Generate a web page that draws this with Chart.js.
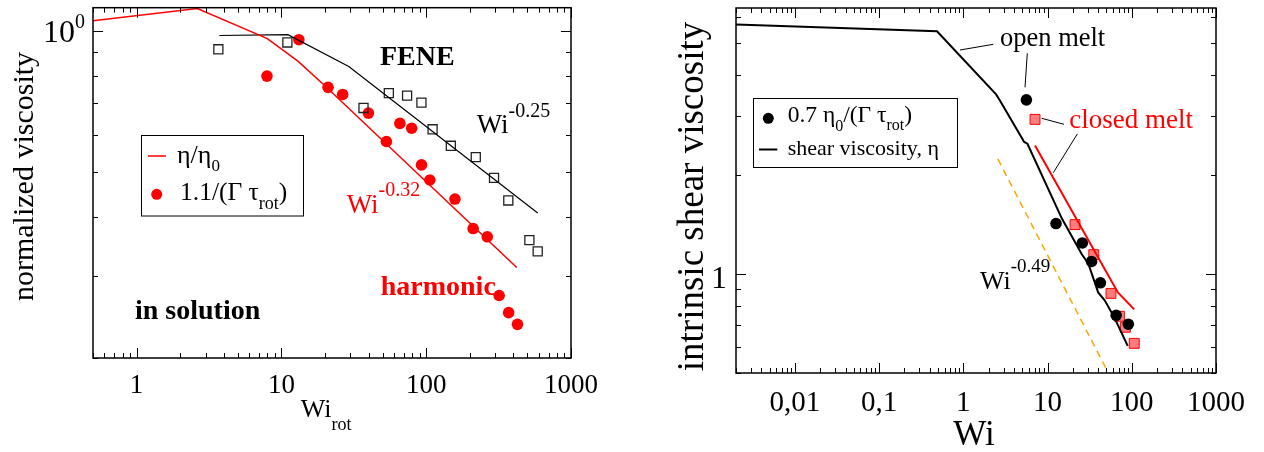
<!DOCTYPE html>
<html>
<head>
<meta charset="utf-8">
<script src="https://cdn.jsdelivr.net/npm/chart.js@4.4.0/dist/chart.umd.min.js"></script>
<style>
  html, body { margin: 0; padding: 0; background: #fff; }
  #wrap { position: relative; width: 1264px; height: 452px; }
  #wrap canvas { position: absolute; left: 0; top: 0; }
</style>
</head>
<body>
<div id="wrap">
  <canvas id="solution" width="1264" height="452"></canvas>
  <canvas id="melt" width="1264" height="452"></canvas>
</div>
<script>
// left panel: chains in solution
const harmLineWi  = [0.5, 2.63, 8, 13, 19.8, 422];
const harmLineEta = [1.05, 1.115, 0.962, 0.861, 0.765, 0.312];
const harmDotWi  = [7.95, 13.2, 21.0, 26.5, 39.9, 53.1, 65.8, 79.4, 92.8, 106, 158, 211, 264, 319, 371, 427];
const harmDotEta = [0.800, 0.957, 0.757, 0.731, 0.667, 0.580, 0.634, 0.619, 0.517, 0.480, 0.437, 0.378, 0.363, 0.272, 0.250, 0.236];
const feneLineWi  = [3.73, 11.1, 29.2, 589];
const feneLineEta = [0.977, 0.981, 0.839, 0.408];
const feneSqWi  = [3.67, 11.0, 36.9, 55.2, 73.8, 92.7, 110.7, 148, 220, 294, 369, 516, 589];
const feneSqEta = [0.913, 0.944, 0.684, 0.736, 0.727, 0.702, 0.616, 0.568, 0.537, 0.485, 0.434, 0.357, 0.338];
const solXTicks  = [1, 10, 100, 1000];
const solXLabels = ['1', '10', '100', '1000'];

// right panel: melts
const openLineWi  = [0.002, 0.487, 2.45, 2.73, 5.28, 5.77, 14.8, 25.4, 30.5, 39.9, 47.7, 62.4, 89.5];
const openLineEta = [5.70, 5.44, 3.50, 3.35, 2.51, 2.48, 1.47, 1.148, 1.073, 0.878, 0.831, 0.735, 0.604];
const openDotWi  = [5.61, 12.6, 25.9, 33.3, 42.4, 65.3, 91.0];
const openDotEta = [3.37, 1.42, 1.24, 1.09, 0.939, 0.748, 0.703];
const closedLineWi  = [7.10, 68.4, 107];
const closedLineEta = [2.45, 0.878, 0.780];
const closedSqWi  = [7.10, 21.2, 35.4, 56.6, 71.4, 83.9, 107];
const closedSqEta = [2.94, 1.41, 1.143, 0.872, 0.743, 0.688, 0.615];
const slopeWi  = [2.57, 49.9];
const slopeEta = [2.23, 0.514];
const meltXTicks  = [0.01, 0.1, 1, 10, 100, 1000];
const meltXLabels = ['0,01', '0,1', '1', '10', '100', '1000'];

const FONT = '"Liberation Serif", "Times New Roman", serif';
const RED = '#ff0000';

function pts(xs, ys) {
    return xs.map((x, i) => ({ x: x, y: ys[i] }));
}

function txt(ctx, s, x, y, size, color, bold, align) {
    ctx.font = (bold ? 'bold ' : '') + size + 'px ' + FONT;
    ctx.fillStyle = color || '#000';
    ctx.textAlign = align || 'left';
    ctx.textBaseline = 'alphabetic';
    ctx.fillText(s, x, y);
    return ctx.measureText(s).width;
}

// text with sub/superscripts: parts are [text, size, baseline shift]
function rich(ctx, x, y, parts, color) {
    parts.forEach(p => {
        x += txt(ctx, p[0], x, y + p[2], p[1], color);
    });
}

function vtxt(ctx, s, x, y, size) {
    ctx.save();
    ctx.translate(x, y);
    ctx.rotate(-Math.PI / 2);
    txt(ctx, s, 0, 0, size, '#000', false, 'center');
    ctx.restore();
}

function seg(ctx, x1, y1, x2, y2, color, w) {
    ctx.strokeStyle = color;
    ctx.lineWidth = w;
    ctx.beginPath();
    ctx.moveTo(x1, y1);
    ctx.lineTo(x2, y2);
    ctx.stroke();
}

function dot(ctx, x, y, r, color) {
    ctx.fillStyle = color;
    ctx.beginPath();
    ctx.arc(x, y, r, 0, Math.PI * 2);
    ctx.fill();
}

// tick positions 1..9 per decade inside the axis range
function logTicks(scale) {
    const out = [];
    const lo = Math.floor(Math.log10(scale.min));
    const hi = Math.ceil(Math.log10(scale.max));
    for (let e = lo; e <= hi; e++) {
        for (let k = 1; k <= 9; k++) {
            const v = k * Math.pow(10, e);
            if (v >= scale.min * 0.999 && v <= scale.max * 1.001) out.push({ v: v, major: k === 1 });
        }
    }
    return out;
}

// box around the plot with inward ticks on all four sides
function drawFrame(chart) {
    const ctx = chart.ctx;
    const a = chart.chartArea;
    const x = chart.scales.x, y = chart.scales.y;
    ctx.save();
    ctx.strokeStyle = '#000';
    ctx.lineWidth = 1.5;
    ctx.strokeRect(a.left, a.top, a.right - a.left, a.bottom - a.top);
    ctx.lineWidth = 1;
    ctx.beginPath();
    logTicks(x).forEach(t => {
        const px = Math.round(x.getPixelForValue(t.v)) + 0.5;
        const len = t.major ? 10 : 5;
        ctx.moveTo(px, a.bottom); ctx.lineTo(px, a.bottom - len);
        ctx.moveTo(px, a.top); ctx.lineTo(px, a.top + len);
    });
    logTicks(y).forEach(t => {
        const py = Math.round(y.getPixelForValue(t.v)) + 0.5;
        const len = t.major ? 10 : 5;
        ctx.moveTo(a.left, py); ctx.lineTo(a.left + len, py);
        ctx.moveTo(a.right, py); ctx.lineTo(a.right - len, py);
    });
    ctx.stroke();
    ctx.restore();
}

function logAxes(xmin, xmax, ymin, ymax) {
    const hidden = { ticks: { display: false }, grid: { display: false }, border: { display: false } };
    return {
        x: Object.assign({ type: 'logarithmic', min: xmin, max: xmax }, hidden),
        y: Object.assign({ type: 'logarithmic', min: ymin, max: ymax }, hidden)
    };
}

const solutionDeco = {
    id: 'solutionDeco',
    afterDraw(chart) {
        const ctx = chart.ctx;
        drawFrame(chart);
        ctx.save();
        solXTicks.forEach((v, i) => {
            txt(ctx, solXLabels[i], chart.scales.x.getPixelForValue(v), 393, 27, '#000', false, 'center');
        });
        rich(ctx, 43, 41.5, [['10', 32, 0], ['0', 20, -14]]);
        vtxt(ctx, 'normalized viscosity', 33, 176.5, 30);
        rich(ctx, 300.7, 417, [['Wi', 26, 0], ['rot', 18, 13]]);

        txt(ctx, 'FENE', 380, 65, 28, '#000', true);
        rich(ctx, 476.7, 133, [['Wi', 27, 0], ['-0.25', 20, -16]]);
        rich(ctx, 346.7, 213, [['Wi', 27, 0], ['-0.32', 20, -17]], RED);
        txt(ctx, 'harmonic', 380.7, 295, 28, RED, true);
        txt(ctx, 'in solution', 135, 319, 28, '#000', true);

        // legend
        ctx.fillStyle = '#fff';
        ctx.fillRect(141.5, 135.5, 162, 80.5);
        ctx.strokeStyle = '#000';
        ctx.lineWidth = 1;
        ctx.strokeRect(141.5, 135.5, 162, 80.5);
        seg(ctx, 148, 156, 166, 156, RED, 1.5);
        rich(ctx, 177, 163, [['η/η', 26, 0], ['0', 17, 8]]);
        dot(ctx, 156.7, 194.3, 5.5, RED);
        rich(ctx, 180, 200, [['1.1/(Γ τ', 25.5, 0], ['rot', 18, 9], [')', 25.5, 0]]);
        ctx.restore();
    }
};

const meltDeco = {
    id: 'meltDeco',
    afterDraw(chart) {
        const ctx = chart.ctx;
        drawFrame(chart);
        ctx.save();
        meltXTicks.forEach((v, i) => {
            txt(ctx, meltXLabels[i], chart.scales.x.getPixelForValue(v), 411, 29, '#000', false, 'center');
        });
        txt(ctx, '1', 719, 288, 32, '#000', false, 'center');
        vtxt(ctx, 'intrinsic shear viscosity', 703, 196.5, 37);
        txt(ctx, 'Wi', 953.3, 445, 35);

        txt(ctx, 'open melt', 1000, 45.5, 26.5);
        seg(ctx, 960, 50, 993.3, 44.3, '#000', 1);
        seg(ctx, 1027.3, 53.3, 1025, 87.3, '#000', 1);
        txt(ctx, 'closed melt', 1069.3, 128.3, 27, RED);
        seg(ctx, 1041.7, 118.3, 1064, 124.3, '#000', 1);
        seg(ctx, 1077.3, 134, 1053.3, 172.7, '#000', 1);
        rich(ctx, 980, 289, [['Wi', 26, 0], ['-0.49', 19, -17]]);

        // legend
        ctx.fillStyle = '#fff';
        ctx.fillRect(753.5, 98.5, 204, 69);
        ctx.strokeStyle = '#000';
        ctx.lineWidth = 1;
        ctx.strokeRect(753.5, 98.5, 204, 69);
        dot(ctx, 768.3, 118.3, 5.5, '#000');
        rich(ctx, 787.7, 121.7, [['0.7 η', 23.5, 0], ['0', 16, 9], ['/(Γ τ', 23.5, 0], ['rot', 16, 8], [')', 23.5, 0]]);
        seg(ctx, 759, 149.5, 777.3, 149.5, '#000', 2);
        txt(ctx, 'shear viscosity, η', 787.7, 155, 22);
        ctx.restore();
    }
};

const common = {
    responsive: false,
    animation: false,
    events: [],
    plugins: { legend: { display: false }, tooltip: { enabled: false } }
};

new Chart(document.getElementById('solution'), {
    type: 'scatter',
    data: {
        datasets: [{
            data: pts(harmLineWi, harmLineEta),
            showLine: true, borderColor: RED, borderWidth: 1.5, pointRadius: 0
        }, {
            data: pts(feneLineWi, feneLineEta),
            showLine: true, borderColor: '#000', borderWidth: 1.2, pointRadius: 0
        }, {
            data: pts(feneSqWi, feneSqEta),
            pointStyle: 'rect', pointRadius: 6.4, borderColor: '#222', borderWidth: 1.3,
            backgroundColor: 'rgba(255,255,255,0)'
        }, {
            data: pts(harmDotWi, harmDotEta),
            pointStyle: 'circle', pointRadius: 5.8, borderWidth: 0, backgroundColor: RED
        }]
    },
    options: Object.assign({}, common, {
        layout: { padding: { left: 85, right: 693, top: 1, bottom: 86 } },
        scales: logAxes(0.5, 1000, 0.2, 1.12)
    }),
    plugins: [solutionDeco]
});

new Chart(document.getElementById('melt'), {
    type: 'scatter',
    data: {
        datasets: [{
            data: pts(slopeWi, slopeEta),
            showLine: true, borderColor: '#ffa500', borderWidth: 1.5, borderDash: [7, 5], pointRadius: 0
        }, {
            data: pts(openLineWi, openLineEta),
            showLine: true, borderColor: '#000', borderWidth: 2, pointRadius: 0
        }, {
            data: pts(closedLineWi, closedLineEta),
            showLine: true, borderColor: RED, borderWidth: 2, pointRadius: 0
        }, {
            data: pts(openDotWi, openDotEta),
            pointStyle: 'circle', pointRadius: 5.8, borderWidth: 0, backgroundColor: '#000'
        }, {
            data: pts(closedSqWi, closedSqEta),
            pointStyle: 'rect', pointRadius: 7, borderColor: RED, borderWidth: 1,
            backgroundColor: 'rgba(255,70,70,0.7)'
        }]
    },
    options: Object.assign({}, common, {
        layout: { padding: { left: 728, right: 48, top: 1, bottom: 71 } },
        scales: logAxes(0.002, 1000, 0.5, 6.4)
    }),
    plugins: [meltDeco]
});
</script>
</body>
</html>
